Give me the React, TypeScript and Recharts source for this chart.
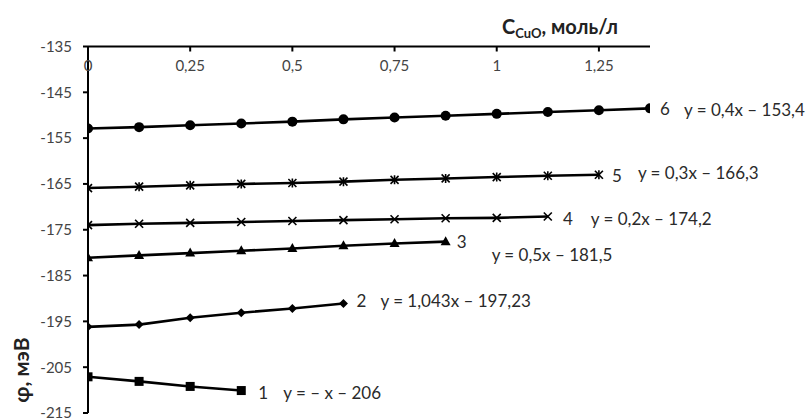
import React from 'react';
import { LineChart, Line, XAxis, YAxis, Label } from 'recharts';

// concentration steps, mol/l
const concentrations = [0, 0.125, 0.25, 0.375, 0.5, 0.625, 0.75, 0.875, 1, 1.125, 1.25, 1.375];
const xTicks = [0, 0.25, 0.5, 0.75, 1, 1.25];
const yTicks = [-135, -145, -155, -165, -175, -185, -195, -205, -215];

// potential, mV
const phi1 = [-207.1, -208.1, -209.2, -210.1];
const phi2 = [-196.2, -195.7, -194.2, -193.1, -192.2, -191.1];
const phi3 = [-181.1, -180.6, -180.1, -179.6, -179.1, -178.5, -178.0, -177.6];
const phi4 = [-174.0, -173.7, -173.5, -173.3, -173.1, -172.9, -172.7, -172.5, -172.4, -172.1];
const phi5 = [-165.9, -165.6, -165.3, -165.0, -164.8, -164.5, -164.1, -163.8, -163.5, -163.2, -163.0];
const phi6 = [-152.9, -152.6, -152.2, -151.8, -151.4, -150.9, -150.5, -150.1, -149.7, -149.3, -148.9, -148.5];

const curveNames = ['1', '2', '3', '4', '5', '6'];
const trendLines = [
  'y = – x – 206',
  'y = 1,043x – 197,23',
  'y = 0,5x – 181,5',
  'y = 0,2x – 174,2',
  'y = 0,3x – 166,3',
  'y = 0,4x – 153,4',
];

const FONT = 'Lato, "Open Sans", sans-serif';
const TEXT = '#2a2a2a';

const fmt = (v: number) => String(v).replace('.', ',');

type MarkerKind = 'square' | 'diamond' | 'triangle' | 'cross' | 'star' | 'circle';

const drawMarker = (kind: MarkerKind, cx: number, cy: number, key: string) => {
  switch (kind) {
    case 'square':
      return <rect key={key} x={cx - 4.5} y={cy - 4.5} width={9} height={9} fill="#000" />;
    case 'diamond':
      return <polygon key={key} points={`${cx},${cy - 4.5} ${cx + 4.5},${cy} ${cx},${cy + 4.5} ${cx - 4.5},${cy}`} fill="#000" />;
    case 'triangle':
      return <polygon key={key} points={`${cx},${cy - 5.5} ${cx + 5},${cy + 3.5} ${cx - 5},${cy + 3.5}`} fill="#000" />;
    case 'cross':
      return (
        <g key={key} stroke="#000" strokeWidth={1.6}>
          <line x1={cx - 4} y1={cy - 4} x2={cx + 4} y2={cy + 4} />
          <line x1={cx - 4} y1={cy + 4} x2={cx + 4} y2={cy - 4} />
        </g>
      );
    case 'star':
      return (
        <g key={key} stroke="#000" strokeWidth={1.6}>
          <line x1={cx - 4} y1={cy - 4} x2={cx + 4} y2={cy + 4} />
          <line x1={cx - 4} y1={cy + 4} x2={cx + 4} y2={cy - 4} />
          <line x1={cx} y1={cy - 4.5} x2={cx} y2={cy + 4.5} />
        </g>
      );
    default:
      return <circle key={key} cx={cx} cy={cy} r={5} fill="#000" />;
  }
};

const series = [
  { values: phi1, marker: 'square' as MarkerKind, num: [22, 2], eq: [42, 2] },
  { values: phi2, marker: 'diamond' as MarkerKind, num: [18, -3], eq: [37, -3] },
  { values: phi3, marker: 'triangle' as MarkerKind, num: [16, 0], eq: [46, 13] },
  { values: phi4, marker: 'cross' as MarkerKind, num: [20, 2], eq: [43, 2] },
  { values: phi5, marker: 'star' as MarkerKind, num: [18, 1], eq: [39, -2] },
  { values: phi6, marker: 'circle' as MarkerKind, num: [15, 0], eq: [34, 1] },
];

const TopTick = (props: any) => {
  const { x, y, payload } = props;
  return (
    <g>
      <line x1={x} y1={y} x2={x} y2={y + 5} stroke="#000" strokeWidth={2} />
      <text x={x} y={y + 24} textAnchor="middle" fontSize={15} fill="#444" fontFamily={FONT}>
        {fmt(payload.value)}
      </text>
    </g>
  );
};

export default function App() {
  return (
    <div style={{ position: 'absolute', left: 0, top: 0, width: 808, height: 419, background: '#fff' }}>
      <LineChart width={808} height={419} margin={{ top: 16.5, right: 158, bottom: 6, left: 0 }}>
        <XAxis
          type="number"
          dataKey="c"
          orientation="top"
          height={30}
          domain={[0, 1.375]}
          ticks={xTicks}
          interval={0}
          allowDataOverflow
          axisLine={{ stroke: '#000', strokeWidth: 2 }}
          tickLine={false}
          tickSize={0}
          tickMargin={0}
          tick={<TopTick />}
        >
          <Label
            content={(p: any) => {
              const vb = p.viewBox;
              return (
                <text x={vb.x + 414} y={vb.y + 17} fontFamily={FONT} fontWeight="bold" fill="#222" fontSize={20}>
                  C<tspan fontSize={13} dy={4}>CuO</tspan>
                  <tspan dy={-4}>, моль/л</tspan>
                </text>
              );
            }}
          />
        </XAxis>
        <YAxis
          type="number"
          width={88}
          domain={[-215, -135]}
          ticks={yTicks}
          interval={0}
          allowDataOverflow
          axisLine={{ stroke: '#000', strokeWidth: 2 }}
          tickLine={{ stroke: '#000', strokeWidth: 2 }}
          tickSize={5}
          tickMargin={11}
          tick={{ fill: '#444', fontSize: 15, fontFamily: FONT }}
        >
          <Label
            content={(p: any) => {
              const vb = p.viewBox;
              const cx = vb.x + 20;
              const cy = vb.y + vb.height - 43;
              return (
                <text
                  x={cx}
                  y={cy}
                  transform={`rotate(-90 ${cx} ${cy})`}
                  textAnchor="middle"
                  dominantBaseline="central"
                  fontFamily={FONT}
                  fontWeight="bold"
                  fill="#222"
                  fontSize={21}
                >
                  φ, мэВ
                </text>
              );
            }}
          />
        </YAxis>
        {series.map((s, si) => {
          const data = s.values.map((v, i) => ({ c: concentrations[i], phi: v }));
          const last = s.values.length - 1;
          return (
            <Line
              key={curveNames[si]}
              data={data}
              dataKey="phi"
              type="linear"
              stroke="#000"
              strokeWidth={2.6}
              isAnimationActive={false}
              dot={(d: any) => drawMarker(s.marker, d.cx, d.cy, `m${si}-${d.index}`)}
              activeDot={false}
              label={(l: any) => {
                if (l.index !== last) return <g key={`l${si}-${l.index}`} />;
                return (
                  <g key={`l${si}-${l.index}`} fontFamily={FONT} fill={TEXT} fontSize={17}>
                    <text x={l.x + s.num[0]} y={l.y + s.num[1]} textAnchor="middle" dominantBaseline="central">
                      {curveNames[si]}
                    </text>
                    <text x={l.x + s.eq[0]} y={l.y + s.eq[1]} dominantBaseline="central">
                      {trendLines[si]}
                    </text>
                  </g>
                );
              }}
            />
          );
        })}
      </LineChart>
    </div>
  );
}
